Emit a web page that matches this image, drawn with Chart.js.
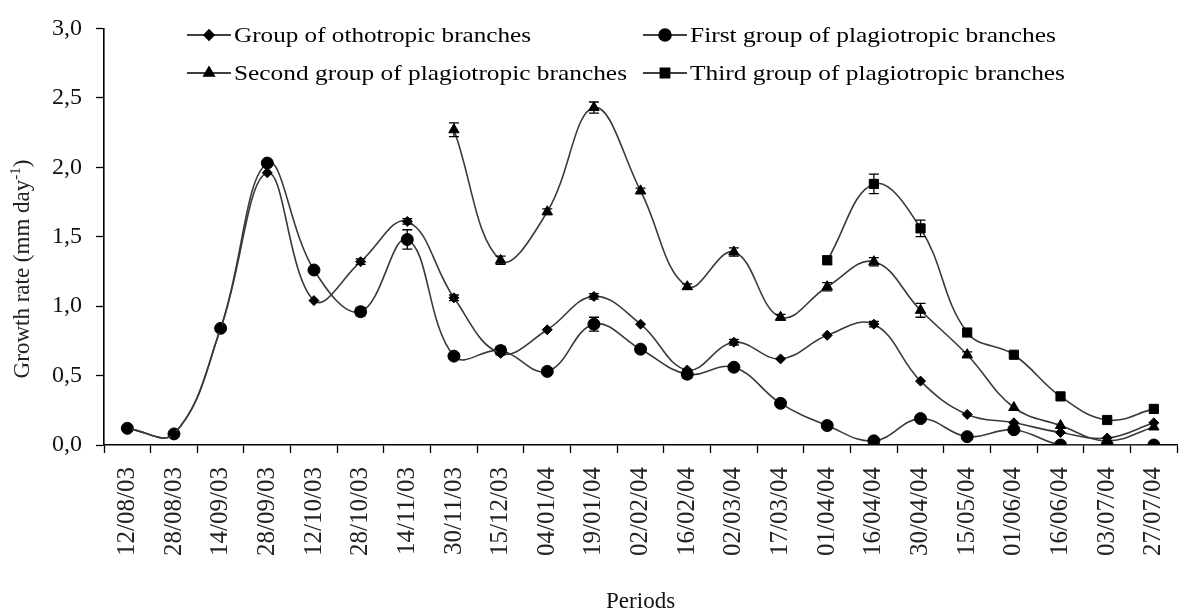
<!DOCTYPE html>
<html>
<head>
<meta charset="utf-8">
<script src="https://cdn.jsdelivr.net/npm/chart.js@4/dist/chart.umd.min.js"></script>
<style>
body{margin:0;background:#fff}
#wrap{position:relative;width:1198px;height:616px}
</style>
</head>
<body>
<div id="wrap"><canvas id="growthChart" width="1198" height="616"></canvas></div>
<script>
let periods=['12/08/03','28/08/03','14/09/03','28/09/03','12/10/03','28/10/03','14/11/03','30/11/03','15/12/03','04/01/04','19/01/04','02/02/04','16/02/04','02/03/04','17/03/04','01/04/04','16/04/04','30/04/04','15/05/04','01/06/04','16/06/04','03/07/04','27/07/04']
let ortho=[0.12,0.08,0.84,1.96,1.04,1.32,1.61,1.06,0.66,0.83,1.07,0.87,0.54,0.74,0.62,0.79,0.87,0.46,0.22,0.16,0.09,0.05,0.16]
let plagio1=[0.12,0.08,0.84,2.03,1.26,0.96,1.48,0.64,0.68,0.53,0.87,0.69,0.51,0.56,0.30,0.14,0.03,0.19,0.06,0.11,0.0,0.0,0.0]
let plagio2=[null,null,null,null,null,null,null,2.27,1.33,1.68,2.43,1.83,1.14,1.39,0.92,1.14,1.32,0.97,0.65,0.27,0.14,0.03,0.13]
let plagio3=[null,null,null,null,null,null,null,null,null,null,null,null,null,null,null,1.33,1.88,1.56,0.81,0.65,0.35,0.18,0.26]
// error bars (half length), 0 where none is visible
let orthoErr=[0,0,0,0,0,0.02,0.02,0.02,0,0,0.02,0,0,0.02,0,0,0.02,0,0,0,0,0,0]
let plagio1Err=[0,0,0,0.02,0,0.03,0.07,0.02,0.03,0,0.05,0,0.03,0.02,0,0,0,0,0,0,0,0,0]
let plagio2Err=[0,0,0,0,0,0,0,0.05,0.03,0.02,0.04,0.02,0.02,0.03,0.02,0.03,0.03,0.05,0.02,0,0,0,0]
let plagio3Err=[0,0,0,0,0,0,0,0,0,0,0,0,0,0,0,0.03,0.07,0.06,0,0,0,0,0]
let yTicks=[0,0.5,1,1.5,2,2.5,3]

let lineCol='#3a3a3a'
let serif='"Liberation Serif"'

function makeSet(label,data,err,style,radius){
    return {
        label:label,
        data:data,
        err:err,
        borderColor:lineCol,
        borderWidth:1.6,
        backgroundColor:'#000',
        pointBackgroundColor:'#000',
        pointBorderColor:'#000',
        pointBorderWidth:1,
        pointStyle:style,
        pointRadius:radius,
        tension:0.4,
        fill:false
    }
}

let errorBars={
    id:'errorBars',
    afterDatasetsDraw(chart){
        let ctx=chart.ctx
        let y=chart.scales.y
        ctx.save()
        ctx.strokeStyle='#000'
        ctx.lineWidth=1.3
        chart.data.datasets.forEach((ds,i)=>{
            let meta=chart.getDatasetMeta(i)
            ds.data.forEach((v,j)=>{
                if(v==null||!ds.err[j])return
                let px=meta.data[j].x
                let top=y.getPixelForValue(v+ds.err[j])
                let bot=y.getPixelForValue(Math.max(0,v-ds.err[j]))
                ctx.beginPath()
                ctx.moveTo(px,top);ctx.lineTo(px,bot)
                ctx.moveTo(px-5,top);ctx.lineTo(px+5,top)
                ctx.moveTo(px-5,bot);ctx.lineTo(px+5,bot)
                ctx.stroke()
            })
        })
        ctx.restore()
    }
}

// legend drawn inside the plot, two columns like the original, plus the y title
let insideLegend={
    id:'insideLegend',
    afterDraw(chart){
        let ctx=chart.ctx
        let spots=[[187,35],[643,35],[187,73],[643,73]]
        let widths=[297,366,393,375]
        ctx.save()
        chart.data.datasets.forEach((ds,i)=>{
            let sx=spots[i][0],sy=spots[i][1]
            ctx.strokeStyle='#000'
            ctx.lineWidth=1.6
            ctx.beginPath();ctx.moveTo(sx,sy);ctx.lineTo(sx+44,sy);ctx.stroke()
            ctx.fillStyle='#000'
            Chart.helpers.drawPoint(ctx,{pointStyle:ds.pointStyle,radius:ds.pointRadius,rotation:0,borderWidth:1},sx+22,sy)
            ctx.font='22px '+serif
            ctx.textBaseline='middle'
            let w=ctx.measureText(ds.label).width
            ctx.save()
            ctx.translate(sx+47,sy+1)
            ctx.scale(widths[i]/w,1)
            ctx.fillText(ds.label,0,0)
            ctx.restore()
        })
        // y axis title
        ctx.save()
        ctx.translate(23,269)
        ctx.rotate(-Math.PI/2)
        ctx.font='23px '+serif
        ctx.fillStyle='#222'
        ctx.textAlign='left'
        ctx.textBaseline='middle'
        let main='Growth rate (mm day'
        let mw=ctx.measureText(main).width
        ctx.font='15px '+serif
        let sw=ctx.measureText('-1').width
        ctx.font='23px '+serif
        let pw=ctx.measureText(')').width
        let x0=-(mw+sw+pw)/2
        ctx.fillText(main,x0,0)
        ctx.font='15px '+serif
        ctx.fillText('-1',x0+mw,-7)
        ctx.font='23px '+serif
        ctx.fillText(')',x0+mw+sw,0)
        ctx.restore()
        ctx.restore()
    }
}

function gettingChart(){
let chartCtx=document.getElementById('growthChart').getContext('2d')
let myChart=new Chart(chartCtx,{
    type:'line',
    data:{
        labels:periods,
        datasets:[
            makeSet('Group of othotropic branches',ortho,orthoErr,'rectRot',5),
            makeSet('First group of plagiotropic branches',plagio1,plagio1Err,'circle',6),
            makeSet('Second group of plagiotropic branches',plagio2,plagio2Err,'triangle',6),
            makeSet('Third group of plagiotropic branches',plagio3,plagio3Err,'rect',6.5)
        ]
    },
    options:{
        responsive:false,
        animation:false,
        layout:{padding:{top:20,right:2,left:0,bottom:0}},
        plugins:{legend:{display:false},tooltip:{enabled:false}},
        scales:{
            x:{
                offset:true,
                grid:{offset:true,drawOnChartArea:false,color:'#000',tickLength:8,tickWidth:1.3},
                border:{color:'#000',width:1.6},
                ticks:{autoSkip:false,minRotation:90,maxRotation:90,padding:14,color:'#222',font:{family:serif,size:25}},
                title:{display:true,text:'Periods',color:'#111',font:{family:serif,size:23},padding:{top:0,bottom:0}},
                afterFit(scale){scale.height=171}
            },
            y:{
                min:0,max:3,
                afterBuildTicks(scale){scale.ticks=yTicks.map(v=>({value:v}))},
                grid:{drawOnChartArea:false,color:'#000',tickLength:8,tickWidth:1.3},
                border:{color:'#000',width:1.6},
                ticks:{padding:14,color:'#111',font:{family:serif,size:24},callback:v=>v.toFixed(1).replace('.',',')},
                afterFit(scale){scale.width=104}
            }
        }
    },
    plugins:[errorBars,insideLegend]
})
}

Promise.all([document.fonts.load('22px "Liberation Serif"'),document.fonts.load('15px "Liberation Serif"')])
    .then(gettingChart,gettingChart)
</script>
</body>
</html>
